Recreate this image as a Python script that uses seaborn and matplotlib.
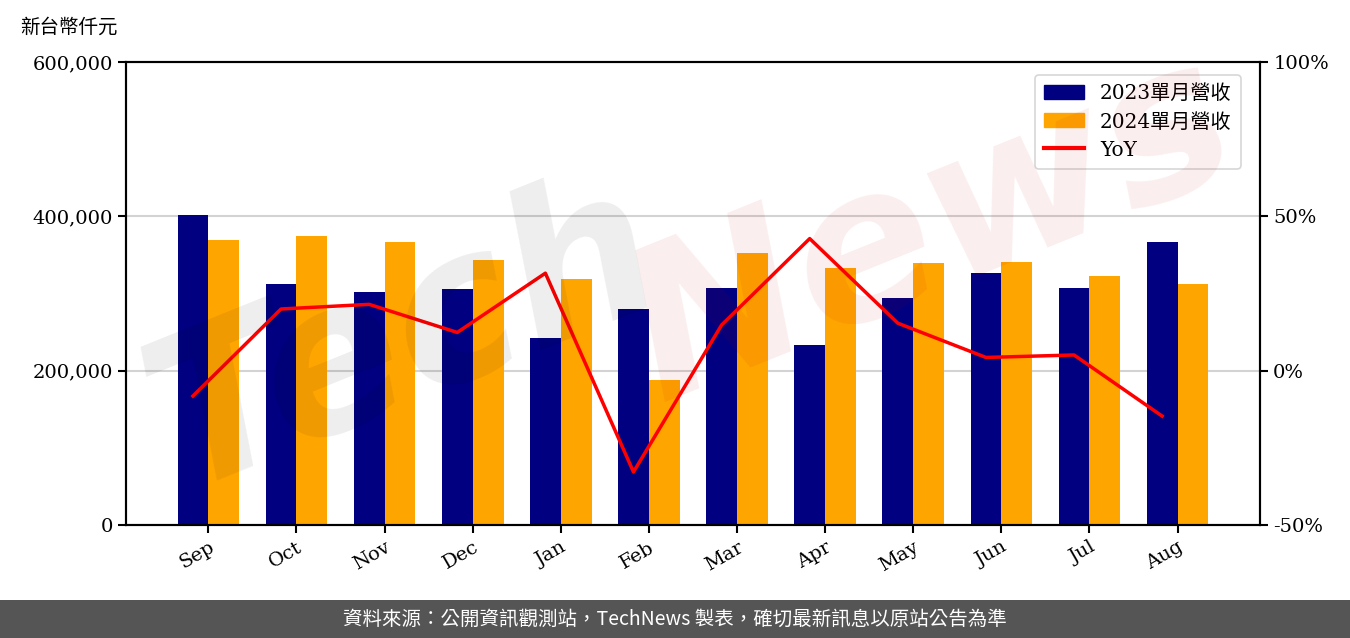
import numpy as np
import pandas as pd
import seaborn as sns
import matplotlib.pyplot as plt
from matplotlib.patches import Rectangle
from matplotlib.ticker import FuncFormatter

# === Data ===
months = ['Sep', 'Oct', 'Nov', 'Dec', 'Jan', 'Feb', 'Mar', 'Apr', 'May', 'Jun', 'Jul', 'Aug']
rev_2023 = [401800, 312300, 302000, 305800, 242300, 279900, 307100, 233300, 294200, 326600, 307100, 366700]
rev_2024 = [369300, 374500, 366700, 343400, 318800, 187900, 352500, 333000, 339500, 340800, 322700, 312300]
yoy = [-8.2, 20.0, 21.5, 12.4, 31.6, -32.8, 14.8, 42.8, 15.4, 4.3, 5.1, -14.7]

label_2023 = '2023單月營收'
label_2024 = '2024單月營收'

plt.rcParams['font.family'] = ['DejaVu Serif', 'Noto Sans CJK TC']
plt.rcParams['axes.unicode_minus'] = False

df = pd.DataFrame({
    'month': months * 2,
    'revenue': rev_2023 + rev_2024,
    'series': [label_2023] * len(months) + [label_2024] * len(months),
})

fig = plt.figure(figsize=(13.5, 6.38), dpi=100)
ax = fig.add_axes([0.0933, 0.177, 0.84, 0.7258])

sns.barplot(data=df, x='month', y='revenue', hue='series', order=months,
            palette={label_2023: '#000080', label_2024: '#FFA500'},
            width=0.7, saturation=1, ax=ax, legend=False, zorder=2)

ax.set_ylim(0, 600000)
ax.set_yticks([0, 200000, 400000, 600000])
ax.yaxis.set_major_formatter(FuncFormatter(lambda v, p: f'{v:,.0f}'))
ax.set_xlim(-0.935, 11.935)
ax.set_xlabel('')
ax.set_ylabel('')
ax.grid(axis='y', color='#d3d3d3', linewidth=1.5, zorder=0)
ax.set_axisbelow(True)
ax.tick_params(axis='both', labelsize=14, length=6, width=1.5, direction='out')
plt.setp(ax.get_xticklabels(), rotation=30, ha='right', rotation_mode='anchor')
for s in ax.spines.values():
    s.set_linewidth(1.5)
    s.set_color('black')

# YoY on secondary axis
ax2 = ax.twinx()
xpos = np.arange(len(months)) - 0.175
sns.lineplot(x=xpos, y=yoy, color='red', linewidth=2.5, ax=ax2, zorder=3)
ax2.set_ylim(-50, 100)
ax2.set_yticks([-50, 0, 50, 100])
ax2.yaxis.set_major_formatter(FuncFormatter(lambda v, p: f'{v:.0f}%'))
ax2.tick_params(axis='y', labelsize=14, length=6, width=1.5)
ax2.set_xlim(-0.935, 11.935)
for s in ax2.spines.values():
    s.set_linewidth(1.5)
    s.set_color('black')

handles = [
    Rectangle((0, 0), 1, 1, color='#000080'),
    Rectangle((0, 0), 1, 1, color='#FFA500'),
    plt.Line2D([0], [0], color='red', linewidth=3),
]
leg = ax2.legend(handles, [label_2023, label_2024, 'YoY'], loc='upper right',
                 fontsize=14.5, frameon=True, fancybox=True, edgecolor='#cccccc',
                 borderpad=0.45, labelspacing=0.45, handlelength=2.0,
                 bbox_to_anchor=(0.992, 0.993))
leg.get_frame().set_linewidth(1.2)

# unit label
fig.text(0.015, 0.958, '新台幣仟元', fontsize=14, ha='left', va='center',
         family=['Noto Sans CJK TC'])

# watermark
fig.text(0.30, 0.47, 'Tech', fontsize=150, color='black', alpha=0.07,
         rotation=22, ha='center', va='center', style='italic', weight='bold',
         family=['DejaVu Sans'], zorder=10)
fig.text(0.69, 0.64, 'News', fontsize=150, color='#c00000', alpha=0.07,
         rotation=22, ha='center', va='center', style='italic', weight='bold',
         family=['DejaVu Sans'], zorder=10)

# footer band
fig.patches.append(Rectangle((0, 0), 1, 38 / 638, transform=fig.transFigure,
                             facecolor='#555555', edgecolor='none', zorder=0))
fig.text(0.5, 19 / 638, '資料來源：公開資訊觀測站，TechNews 製表，確切最新訊息以原站公告為準',
         color='white', fontsize=14, ha='center', va='center',
         family=['Noto Sans CJK TC'])

fig.savefig('out.png', dpi=100)
